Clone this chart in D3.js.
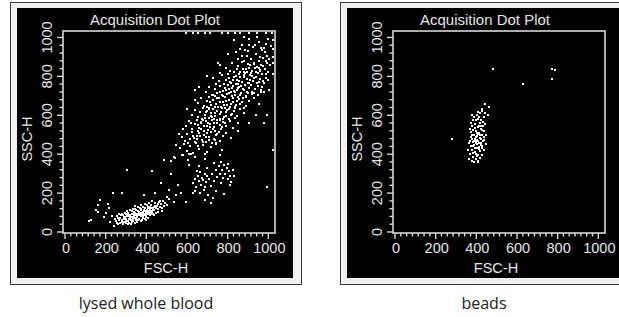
<!DOCTYPE html>
<html>
<head>
<meta charset="utf-8">
<script src="https://cdn.jsdelivr.net/npm/d3@7"></script>
<style>
  html, body { margin: 0; padding: 0; background: #fff; }
  svg { display: block; }
</style>
</head>
<body>
<svg id="chart" width="619" height="317"></svg>
<script>
(function (d3) {
  'use strict';

  // axis ticks and labels (FSC-H / SSC-H channels, 0..1023)
  const majorTicks = [0, 200, 400, 600, 800, 1000];
  const tickLabels = ['0', '200', '400', '600', '800', '1000'];
  const panelTitle = 'Acquisition Dot Plot';
  const xTitle = 'FSC-H';
  const yTitle = 'SSC-H';
  const captions = ['lysed whole blood', 'beads'];

  // events, [FSC, SSC]
  const granulocytes = [
    [595,1023],[628,1023],[653,1023],[687,1023],[712,1023],[770,1023],[803,1023],[837,1023],[862,1023],[903,1023],[945,1023],[987,1023],[1017,1023],
    [830,985],[870,960],[905,990],[925,950],[955,975],[980,945],[1000,990],[945,1005],[880,1000],[990,965],[1015,955],[860,940],
    [800,915],[840,925],[870,905],[900,930],[915,890],[940,915],[960,900],[985,925],[1005,890],[880,880],[930,870],[970,935],[1023,900],[1023,870],[850,890],[895,905],[955,880],[990,880],
    [760,860],[790,845],[820,870],[850,855],[875,840],[900,865],[920,830],[945,850],[965,860],[985,840],[1000,825],[870,875],[830,825],[905,845],[940,825],[960,835],[880,820],[810,830],[995,870],[753,870],
    [730,790],[755,775],[770,805],[790,780],[800,810],[815,765],[830,795],[845,780],[855,810],[870,770],[880,795],[895,785],[910,805],[925,775],[940,795],[955,770],[970,810],[990,790],[760,815],[805,790],[840,760],[860,795],[885,815],[905,765],[920,800],[950,815],[980,765],[1000,780],[700,800],[745,760],
    [695,720],[710,745],[725,705],[740,735],[750,715],[760,750],[775,725],[785,740],[795,710],[805,735],[815,720],[825,750],[835,705],[845,730],[855,745],[865,715],[875,735],[885,755],[895,720],[905,740],[920,710],[935,735],[950,750],[965,720],[770,705],[800,755],[830,725],[860,705],[890,700],[915,755],[740,700],[780,760],[850,760],[970,745],[1005,730],[660,745],[640,730],
    [655,665],[670,690],[685,650],[700,675],[710,695],[720,655],[730,680],[745,660],[755,690],[765,645],[775,670],[785,695],[795,655],[805,680],[815,660],[825,690],[835,645],[845,675],[860,660],[875,690],[890,650],[905,675],[740,645],[790,675],[820,700],[850,695],[700,645],[760,670],[930,690],[640,680],[880,640],[955,660],
    [625,600],[640,625],[655,590],[665,615],[680,635],[690,600],[700,620],[710,585],[720,610],[730,630],[740,595],[750,620],[760,605],[770,635],[780,590],[790,615],[805,630],[815,600],[830,620],[845,595],[860,630],[675,580],[735,580],[785,640],[835,640],[600,630],[880,610],[710,640],[760,580],
    [595,545],[610,570],[625,530],[640,555],[650,575],[660,535],[670,560],[685,545],[695,570],[705,525],[715,555],[725,575],[735,540],[750,560],[765,530],[775,565],[790,545],[810,570],[825,535],[655,520],[700,545],[740,520],[620,560],[580,530],[850,560],[680,575],[760,575],
    [575,490],[590,470],[600,505],[615,480],[625,515],[640,465],[650,495],[660,510],[672,475],[685,500],[695,465],[710,490],[720,515],[735,480],[748,505],[760,470],[775,495],[790,510],[605,460],[700,510],[630,495],[560,505],[815,485],[745,460],
    [565,430],[585,450],[600,415],[615,440],[630,405],[645,455],[660,425],[680,445],[700,410],[720,435],[745,450],[770,420],[610,400],[690,400],[545,445],[655,440],
    [540,380],[575,395],[605,370],[640,385],[690,375],[760,395],[520,365],
    [712,668],[728,702],[748,688],[762,722],[778,698],[792,732],[808,712],[822,742],[838,718],[852,738],[868,752],[882,728],[898,768],[912,782],[928,792],[942,768],[958,788],[972,778],[988,810],
    [862,822],[848,840],[892,838],[912,858],[932,862],[952,842],[972,852],[692,618],[708,632],[722,592],[738,612],[752,642],[768,618],[782,652],[798,628],[812,642],[828,668],[842,652],
    [858,682],[872,668],[888,692],[902,712],[918,722],[932,712],[948,702],[962,732],[978,722],[668,568],[688,588],[702,562],[718,598],[732,558],[746,578],[762,548],[778,582],[794,598],
    [808,582],[822,608],[838,588],[652,548],[668,528],[684,518],[712,538],[728,528],[742,498],[758,512],[772,538],[788,562],[632,482],[648,478],[664,492],[678,462],[692,488],[708,472],
    [724,458],[738,472],[812,772],[828,782],[842,802],[858,778],[878,808],[895,822],[915,815],[935,845],[958,828],[975,895],[995,905],[1010,860],[935,960],[965,945],[905,960],[885,935],
    [1023,985],[1023,940],[1023,810]
  ];

  const lymphocytes = [
    [250,55],[262,70],[270,48],[275,85],[280,62],[288,75],[292,52],[298,90],[300,68],[305,80],[310,58],[312,100],[318,72],[322,88],[325,62],[330,95],[332,78],[336,55],[340,105],[342,70],
    [345,85],[350,60],[352,95],[356,75],[360,110],[362,88],[366,68],[370,100],[372,80],[376,118],[380,92],[384,72],[386,105],[390,85],[394,125],[398,98],[400,78],[404,112],[408,90],[410,130],
    [414,102],[418,85],[420,120],[424,140],[428,108],[432,95],[436,130],[440,115],[444,148],[448,100],[452,135],[456,120],[460,155],[465,128],[470,142],[475,110],[480,160],[485,135],
    [290,65],[295,100],[308,88],[315,48],[328,108],[338,92],[348,112],[355,50],[364,98],[368,122],[378,62],[388,115],[392,65],[402,138],[406,72],[416,128],[426,92],[438,88],[446,125],[458,105],
    [468,160],[300,45],[320,115],[335,120],[358,130],[375,140],[395,145],[412,150],[430,160],[282,95],[268,60],[258,80],[305,110],[343,118],[383,130],[422,100],[262,42],[245,65],[285,40],
    [326,42],[346,132],[399,110],[433,118],[455,145],[478,125],[490,150],[500,140],[510,170],
    [272,72],[278,52],[284,88],[296,78],[302,58],[306,95],[314,82],[316,66],[324,76],[328,52],[334,68],[338,82],[344,98],[348,74],[352,82],[358,64],[362,102],[368,86],[372,112],[378,96],
    [382,80],[388,92],[392,106],[396,88],[402,100],[406,122],[410,108],[416,95],[420,110],[426,125],[430,102],[436,112],[442,135],[450,122],[254,48],[266,90],[312,40],[346,45],[374,55],[396,60]
  ];

  const monocytes = [
    [630,250],[637,270],[645,230],[652,290],[658,260],[665,310],[670,240],[676,280],[682,215],[688,300],[695,255],[700,330],[705,190],[710,270],[718,235],[722,300],[730,175],[735,260],
    [742,320],[748,285],[755,340],[760,300],[765,250],[770,320],[775,280],[782,345],[788,300],[795,330],[800,270],[805,315],[810,290],[818,255],[825,320],[640,210],[660,340],[690,165],
    [720,150],[745,210],[780,195],[812,240],[650,315],[700,290],[735,355],[768,360],[800,350],[662,200],[690,230],[830,290]
  ];

  const scatterEvents = [
    [128,62],[120,58],[153,113],[162,104],[170,164],[160,138],[200,100],[215,125],[237,198],[278,198],[230,80],[240,30],[220,50],[190,75],[210,145],
    [303,321],[428,313],[387,190],[445,203],[487,369],[512,215],[537,156],[570,198],[595,156],[537,386],[578,395],[620,400],[628,198],[678,267],[520,300],
    [470,250],[555,240],[610,345],[500,180],[545,190],[762,395],
    [995,600],[995,230],[1023,420],[980,560],[940,600],[850,520],[905,560]
  ];

  // events, [FSC, SSC]
  const beads = [
    [370,400],[378,420],[385,385],[390,445],[395,410],[400,470],[405,430],[410,395],[415,455],[420,415],[425,480],[430,440],[382,465],[388,500],[392,480],[398,520],[402,495],[408,540],
    [412,510],[418,560],[422,530],[428,500],[435,470],[440,520],[375,515],[380,545],[386,525],[394,555],[399,575],[404,450],[409,470],[414,590],[419,485],[424,545],[432,565],[438,490],
    [365,460],[372,490],[376,440],[384,405],[396,375],[406,365],[416,380],[426,395],[436,420],[446,450],[368,530],[374,560],[390,590],[404,600],[420,610],[436,590],[444,555],[450,500],
    [360,420],[366,375],[380,365],[392,430],[397,455],[403,510],[411,425],[417,500],[423,460],[429,525],[387,470],[383,575],[407,580],[413,545],[393,535],[399,400],[421,575],[427,430],
    [433,545],[401,390],[389,360],[409,360],[379,480],[385,440],[391,500],[397,490],[403,475],[409,505],[415,435],[421,445],[439,475],[371,470],[377,500],[408,615],[428,620],[445,610],
    [455,600],[380,600],[430,630],[460,645],[445,660]
  ];

  const beadOutliers = [
    [480,840],[630,760],[770,840],[785,835],[770,785],[280,477]
  ];

  const svg = d3.select('#chart');
  const axisFont = "'Liberation Sans', Arial, sans-serif";
  const axisColor = '#e6e6e6';

  const drawPanel = (dx, events, caption, captionX) => {
    const g = svg.append('g').attr('transform', `translate(${dx},0)`);

    // window frame
    g.append('rect')
      .attr('x', 10.5).attr('y', 2.5)
      .attr('width', 291).attr('height', 282)
      .attr('fill', '#f1f1f1')
      .attr('stroke', '#3a3a3a');
    g.append('rect')
      .attr('x', 17).attr('y', 8)
      .attr('width', 276).attr('height', 270)
      .attr('fill', '#000');

    const x = d3.scaleLinear().domain([0, 1023]).range([65, 273]);
    const y = d3.scaleLinear().domain([0, 1023]).range([232, 33]);

    // plot frame
    g.append('rect')
      .attr('x', 63).attr('y', 31)
      .attr('width', 212).attr('height', 202)
      .attr('fill', 'none')
      .attr('stroke', '#d8d8d8')
      .attr('stroke-width', 1.6);

    // minor + major ticks
    const xMinor = d3.range(0, 1001, 200 / 7);
    const yMinor = d3.range(0, 1001, 40);

    g.selectAll('.xtick')
      .data(xMinor)
      .enter()
      .append('line')
      .attr('x1', (v) => x(v)).attr('x2', (v) => x(v))
      .attr('y1', 233)
      .attr('y2', (v) => majorTicks.some((m) => Math.abs(m - v) < 1) ? 239 : 236.5)
      .attr('stroke', '#d8d8d8').attr('stroke-width', 1.4);

    g.selectAll('.ytick')
      .data(yMinor)
      .enter()
      .append('line')
      .attr('y1', (v) => y(v)).attr('y2', (v) => y(v))
      .attr('x1', 63)
      .attr('x2', (v) => majorTicks.includes(v) ? 57 : 59.5)
      .attr('stroke', '#d8d8d8').attr('stroke-width', 1.4);

    g.selectAll('.xlabel')
      .data(majorTicks)
      .enter()
      .append('text')
      .attr('x', (v) => x(v) + 1)
      .attr('y', 253)
      .attr('text-anchor', 'middle')
      .attr('fill', axisColor)
      .style('font-family', axisFont)
      .style('font-size', '14.5px')
      .text((v, i) => tickLabels[i]);

    g.selectAll('.ylabel')
      .data(majorTicks)
      .enter()
      .append('text')
      .attr('transform', (v) => `translate(52,${y(v)}) rotate(-90)`)
      .attr('text-anchor', 'middle')
      .attr('fill', axisColor)
      .style('font-family', axisFont)
      .style('font-size', '14.5px')
      .text((v, i) => tickLabels[i]);

    g.append('text')
      .attr('x', 166).attr('y', 273)
      .attr('text-anchor', 'middle')
      .attr('fill', axisColor)
      .style('font-family', axisFont)
      .style('font-size', '14.5px')
      .text(xTitle);

    g.append('text')
      .attr('transform', 'translate(32,139) rotate(-90)')
      .attr('text-anchor', 'middle')
      .attr('fill', axisColor)
      .style('font-family', axisFont)
      .style('font-size', '14.5px')
      .text(yTitle);

    g.append('text')
      .attr('x', 155).attr('y', 25)
      .attr('text-anchor', 'middle')
      .attr('fill', axisColor)
      .style('font-family', axisFont)
      .style('font-size', '15px')
      .text(panelTitle);

    // events
    g.selectAll('.dot')
      .data(events)
      .enter()
      .append('rect')
      .attr('x', (d) => Math.round(x(d[0]) - 1))
      .attr('y', (d) => Math.round(y(d[1]) - 1))
      .attr('width', 2).attr('height', 2)
      .attr('shape-rendering', 'crispEdges')
      .attr('fill', '#fff');

    g.append('text')
      .attr('x', captionX).attr('y', 309)
      .attr('text-anchor', 'middle')
      .attr('fill', '#222')
      .style('font-family', "'Open Sans', 'Noto Sans', sans-serif")
      .style('font-size', '16px')
      .text(caption);
  };

  drawPanel(0, [].concat(granulocytes, lymphocytes, monocytes, scatterEvents), captions[0], 146);
  drawPanel(330, [].concat(beads, beadOutliers), captions[1], 154);

}(d3));
</script>
</body>
</html>
